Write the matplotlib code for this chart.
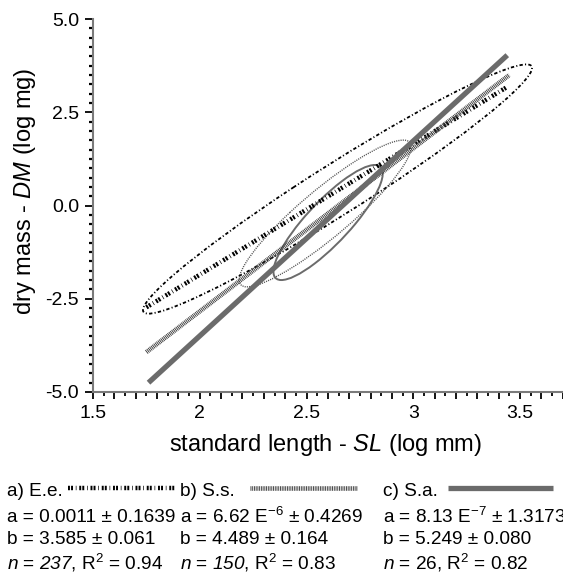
import matplotlib
matplotlib.use('Agg')
import matplotlib.pyplot as plt
import matplotlib.ticker as mticker
from matplotlib.patches import Ellipse
from matplotlib.lines import Line2D
import numpy as np

plt.rcParams['font.family'] = ['Liberation Sans', 'DejaVu Sans']
plt.rcParams['mathtext.fontset'] = 'custom'
plt.rcParams['mathtext.rm'] = 'Liberation Sans'
plt.rcParams['mathtext.it'] = 'Liberation Sans:italic'
# \mathsf is used for italic digits (mathtext keeps digits upright in \mathit)
plt.rcParams['mathtext.sf'] = 'Liberation Sans:italic'
plt.rcParams['axes.unicode_minus'] = False
plt.rcParams['lines.scale_dashes'] = False

# values
tags = ['a)', 'b)', 'c)']
species = ['E.e.', 'S.s.', 'S.a.']
a_val = ['0.0011', '6.62 E$^{-6}$', '8.13 E$^{-7}$']
a_se = ['0.1639', '0.4269', '1.3173']
b_val = ['3.585', '4.489', '5.249']
b_se = ['0.061', '0.164', '0.080']
n_obs = ['237', '150', '26']
n_italic = [True, True, False]
r2 = ['0.94', '0.83', '0.82']

# fitted lines, log SL -> log DM (end points)
line_x = [[1.75, 3.44], [1.75, 3.45], [1.76, 3.44]]
line_y = [[-2.73, 3.18], [-3.93, 3.50], [-4.75, 4.03]]

# ellipses: centre, half long axis (to the extreme left/right point), vertical half width
ell_cx = [2.645, 2.587, 2.601]
ell_cy = [0.442, -0.214, -0.456]
ell_ux = [0.911, 0.403, 0.256]
ell_uy = [3.244, 1.783, 1.319]
ell_h = [0.80, 0.83, 0.80]

line_styles = [
    dict(color='black', lw=3.2, ls=(0, (1.4, 0.8, 1.4, 2.0, 0.5, 2.0))),
    dict(color='#3a3a3a', lw=3.3, ls=(0, (0.65, 0.6))),
    dict(color='#6b6b6b', lw=3.8, ls='-'),
]
ell_styles = [
    dict(edgecolor='black', lw=1.3, ls=(0, (2.4, 1.6, 0.8, 1.6))),
    dict(edgecolor='#555555', lw=1.0, ls=(0, (0.8, 0.8))),
    dict(edgecolor='#6b6b6b', lw=1.4, ls='-'),
]


def ellipse_patch(cx, cy, ux, uy, h, **kw):
    m = np.array([[ux, 0.0], [uy, h]])
    u, s, vt = np.linalg.svd(m)
    ang = np.degrees(np.arctan2(u[1, 0], u[0, 0]))
    return Ellipse((cx, cy), 2 * s[0], 2 * s[1], angle=ang, fill=False, **kw)


W, H = 563, 579
fig = plt.figure(figsize=(W / 100, H / 100), dpi=100)
ax = fig.add_axes([93 / W, 187 / H, 470 / W, 373 / H])

for i in range(3):
    ax.add_patch(ellipse_patch(ell_cx[i], ell_cy[i], ell_ux[i], ell_uy[i], ell_h[i],
                               **ell_styles[i]))
for i in range(3):
    ax.plot(line_x[i], line_y[i], solid_capstyle='butt', dash_capstyle='butt',
            **line_styles[i])

ax.set_xlim(1.5, 3.701)
ax.set_ylim(-5, 5)
for s in ['top', 'right']:
    ax.spines[s].set_visible(False)
for s in ['left', 'bottom']:
    ax.spines[s].set_color('#7a7a7a')
    ax.spines[s].set_linewidth(1.5)


def xfmt(v, pos):
    if abs(v * 2 - round(v * 2)) < 1e-6:
        return '%g' % round(v, 2)
    return ''


ax.xaxis.set_major_locator(mticker.MultipleLocator(0.1))
ax.xaxis.set_minor_locator(mticker.MultipleLocator(0.05))
ax.xaxis.set_major_formatter(mticker.FuncFormatter(xfmt))
ax.yaxis.set_major_locator(mticker.MultipleLocator(2.5))
ax.yaxis.set_minor_locator(mticker.MultipleLocator(0.25))
ax.yaxis.set_major_formatter(mticker.FormatStrFormatter('%.1f'))
ax.tick_params(axis='x', which='major', length=5, width=1.3, pad=4, labelsize=14)
ax.tick_params(axis='x', which='minor', length=3, width=1.3)
ax.tick_params(axis='y', which='major', length=6, width=1.3, pad=4, labelsize=14)
ax.tick_params(axis='y', which='minor', length=3, width=1.6)

ax.set_xlabel('standard length - $SL$ (log mm)', fontsize=17)
ax.xaxis.set_label_coords(0.494, -0.142)
ax.xaxis.label.set_va('center')
ax.set_ylabel('dry mass - $DM$ (log mg)', fontsize=17)
ax.yaxis.set_label_coords(-0.145, 0.5375)
ax.yaxis.label.set_va('center')

# legend block under the plot, in pixel coordinates
lay = fig.add_axes([0, 0, 1, 1])
lay.set_xlim(0, W)
lay.set_ylim(H, 0)
lay.axis('off')
col_x = [7, 180, 383]
row_y = [492, 517, 540, 563]
sample_x = [(68, 175), (250, 357), (448, 553)]
for i in range(3):
    n_txt = r'$\mathsf{%s}$' % n_obs[i] if n_italic[i] else n_obs[i]
    rows = [f'{tags[i]} {species[i]}',
            f'a = {a_val[i]} ± {a_se[i]}',
            f'b = {b_val[i]} ± {b_se[i]}',
            f'$n$ = {n_txt}, R$^2$ = {r2[i]}']
    for r, txt in enumerate(rows):
        lay.text(col_x[i], row_y[r], txt, fontsize=13.7, ha='left', va='center')
    lay.add_line(Line2D(sample_x[i], [488, 488], solid_capstyle='butt',
                        dash_capstyle='butt', **line_styles[i]))

fig.savefig('out.png', dpi=100)
